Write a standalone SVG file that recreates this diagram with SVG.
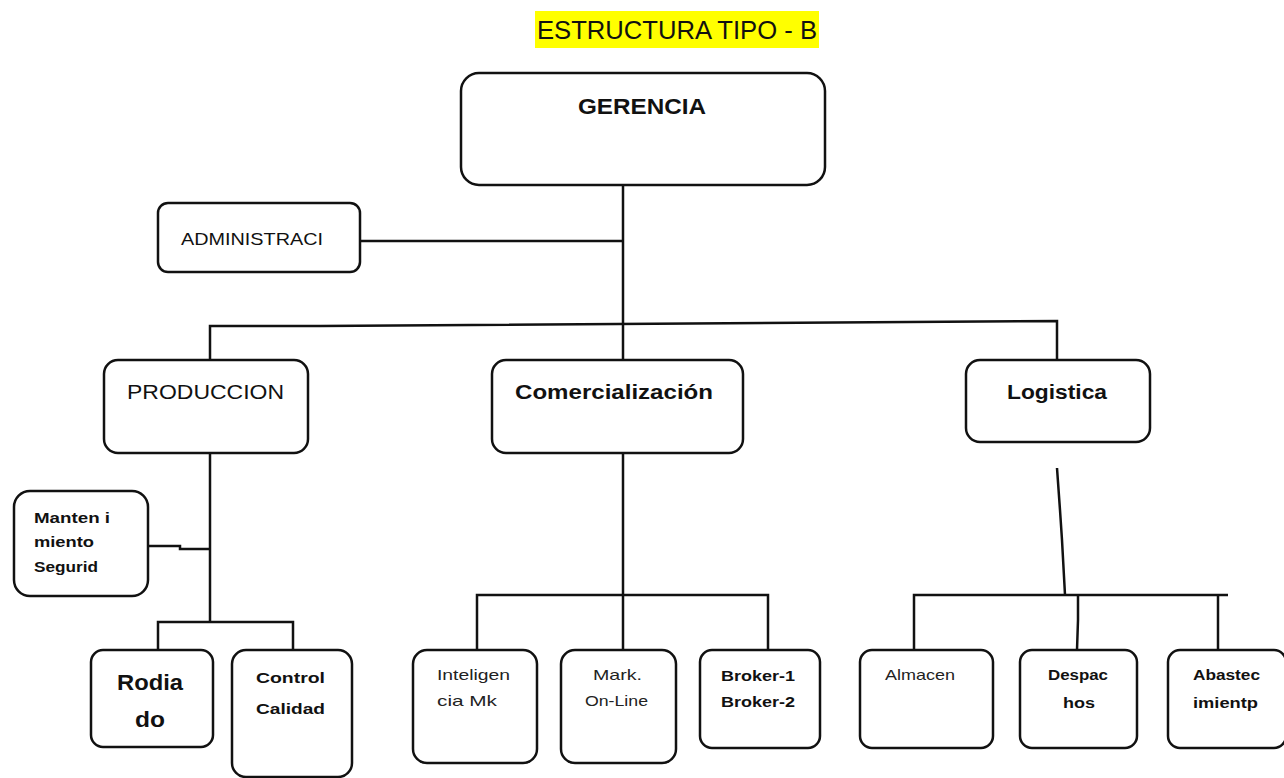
<svg xmlns="http://www.w3.org/2000/svg" width="1284" height="778" viewBox="0 0 1284 778">
  <style>
    .box { fill: #ffffff; stroke: #111; stroke-width: 2.5; }
    .wire { fill: none; stroke: #111; stroke-width: 2.5; }
    text { font-family: "Liberation Sans", Arial, sans-serif; fill: #111; }
    .b { font-weight: bold; }
    .s { font-size: 15px; fill: #222; }
    .sb { font-size: 14px; font-weight: bold; }
  </style>

  <!-- title -->
  <g id="title">
    <rect x="535" y="11" width="284" height="37" fill="#ffff00"/>
    <text x="537" y="39" font-size="25" textLength="280" lengthAdjust="spacingAndGlyphs">ESTRUCTURA  TIPO - B</text>
  </g>

  <!-- connectors -->
  <g id="connectors" class="wire">
    <path d="M623 185 V360"/>
    <path d="M360 241 H623"/>
    <path d="M210 360 V326 H320 L1057 321 V360"/>
    <path d="M210 453 V622"/>
    <path d="M148 546 H180 V549 H210"/>
    <path d="M158 650 V622 H293 V650"/>
    <path d="M623 453 V650"/>
    <path d="M477 650 V595 H768 V650"/>
    <path d="M1057 468 L1060 510 L1062 540 L1065 595"/>
    <path d="M914 650 V595 H1228"/>
    <path d="M1078 595 V620 L1077 650"/>
    <path d="M1218 595 V650"/>
  </g>

  <g id="gerencia">
    <rect class="box" x="461" y="73" width="364" height="112" rx="18"/>
    <text class="b" x="642" y="114" font-size="22" text-anchor="middle" textLength="128" lengthAdjust="spacingAndGlyphs">GERENCIA</text>
  </g>

  <g id="administracion">
    <rect class="box" x="158" y="203" width="202" height="69" rx="10"/>
    <text x="181" y="245" font-size="17" textLength="142" lengthAdjust="spacingAndGlyphs">ADMINISTRACI</text>
  </g>

  <g id="produccion">
    <rect class="box" x="104" y="360" width="204" height="93" rx="14"/>
    <text x="127" y="399" font-size="20" textLength="157" lengthAdjust="spacingAndGlyphs">PRODUCCION</text>
  </g>

  <g id="comercializacion">
    <rect class="box" x="492" y="360" width="251" height="93" rx="14"/>
    <text class="b" x="515" y="399" font-size="20" textLength="198" lengthAdjust="spacingAndGlyphs">Comercialización</text>
  </g>

  <g id="logistica">
    <rect class="box" x="966" y="360" width="184" height="82" rx="14"/>
    <text class="b" x="1007" y="399" font-size="20" textLength="100" lengthAdjust="spacingAndGlyphs">Logistica</text>
  </g>

  <g id="mantenimiento">
    <rect class="box" x="14" y="491" width="134" height="105" rx="16"/>
    <text class="sb" x="34" y="523" textLength="76" lengthAdjust="spacingAndGlyphs">Manten i</text>
    <text class="sb" x="34" y="547" textLength="60" lengthAdjust="spacingAndGlyphs">miento</text>
    <text class="sb" x="34" y="572" textLength="64" lengthAdjust="spacingAndGlyphs">Segurid</text>
  </g>

  <g id="rodiado">
    <rect class="box" x="91" y="650" width="122" height="97" rx="12"/>
    <text class="b" x="150" y="690" font-size="22" text-anchor="middle" textLength="66" lengthAdjust="spacingAndGlyphs">Rodia</text>
    <text class="b" x="150" y="727" font-size="22" text-anchor="middle" textLength="30" lengthAdjust="spacingAndGlyphs">do</text>
  </g>

  <g id="control-calidad">
    <rect class="box" x="232" y="650" width="120" height="127" rx="14"/>
    <text class="b" x="256" y="683" font-size="15" textLength="69" lengthAdjust="spacingAndGlyphs">Control</text>
    <text class="b" x="256" y="714" font-size="15" textLength="69" lengthAdjust="spacingAndGlyphs">Calidad</text>
  </g>

  <g id="inteligencia">
    <rect class="box" x="413" y="650" width="124" height="113" rx="14"/>
    <text class="s" x="437" y="680" textLength="73" lengthAdjust="spacingAndGlyphs">Inteligen</text>
    <text class="s" x="437" y="706" textLength="60" lengthAdjust="spacingAndGlyphs">cia  Mk</text>
  </g>

  <g id="marketing-online">
    <rect class="box" x="561" y="650" width="115" height="113" rx="14"/>
    <text class="s" x="593" y="680" textLength="49" lengthAdjust="spacingAndGlyphs">Mark.</text>
    <text class="s" x="585" y="706" textLength="63" lengthAdjust="spacingAndGlyphs">On-Line</text>
  </g>

  <g id="brokers">
    <rect class="box" x="700" y="650" width="120" height="98" rx="12"/>
    <text class="sb" x="721" y="681" textLength="74" lengthAdjust="spacingAndGlyphs">Broker-1</text>
    <text class="sb" x="721" y="707" textLength="74" lengthAdjust="spacingAndGlyphs">Broker-2</text>
  </g>

  <g id="almacen">
    <rect class="box" x="860" y="650" width="133" height="98" rx="12"/>
    <text class="s" x="885" y="680" textLength="70" lengthAdjust="spacingAndGlyphs">Almacen</text>
  </g>

  <g id="despachos">
    <rect class="box" x="1020" y="650" width="117" height="98" rx="12"/>
    <text class="sb" x="1048" y="680" textLength="60" lengthAdjust="spacingAndGlyphs">Despac</text>
    <text class="sb" x="1063" y="708" textLength="32" lengthAdjust="spacingAndGlyphs">hos</text>
  </g>

  <g id="abastecimiento">
    <rect class="box" x="1168" y="650" width="118" height="98" rx="12"/>
    <text class="sb" x="1193" y="680" textLength="67" lengthAdjust="spacingAndGlyphs">Abastec</text>
    <text class="sb" x="1193" y="708" textLength="65" lengthAdjust="spacingAndGlyphs">imientp</text>
  </g>
</svg>
